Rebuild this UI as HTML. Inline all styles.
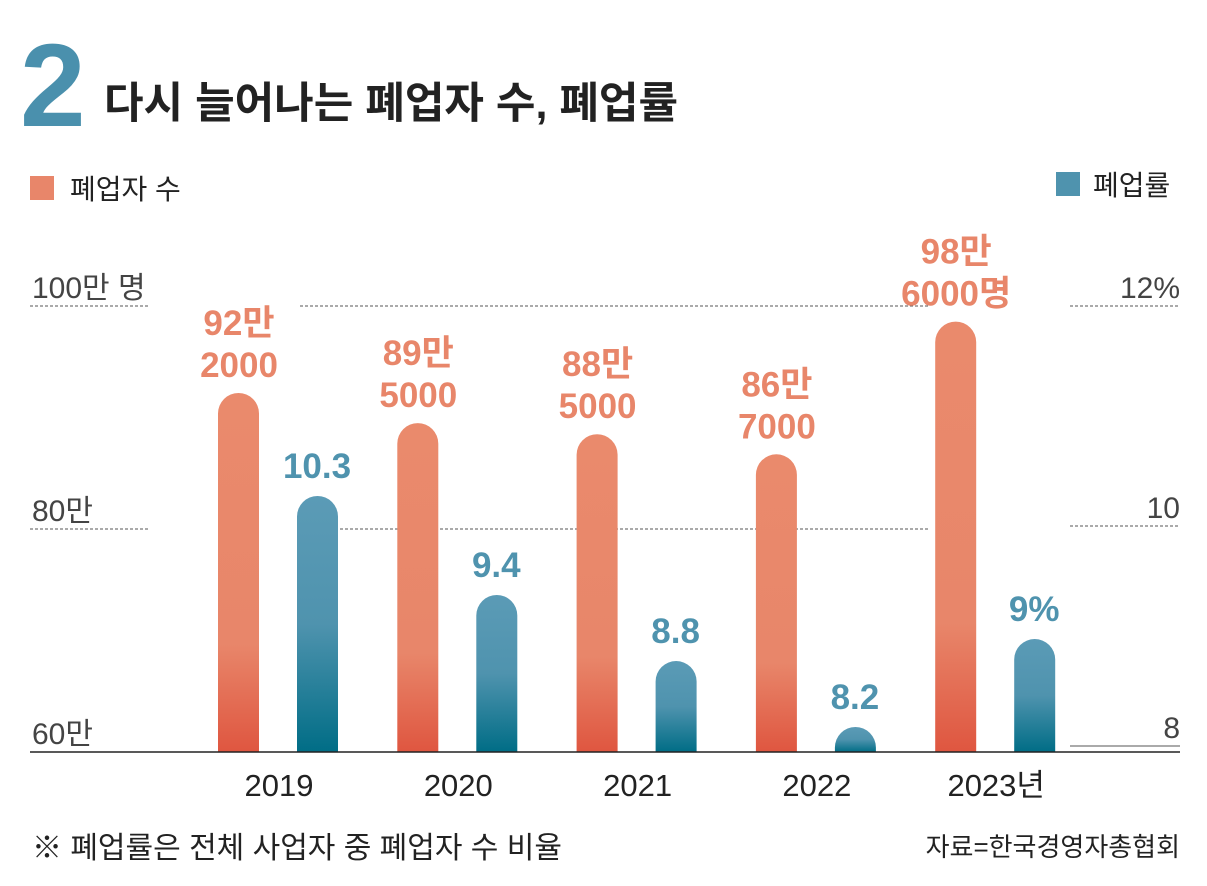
<!DOCTYPE html>
<html><head><meta charset="utf-8">
<style>
body{margin:0;background:#fff;}
svg text{font-family:"Liberation Sans","Noto Sans CJK KR",sans-serif;}
</style></head>
<body>
<svg id="chart" width="1207" height="881" viewBox="0 0 1207 881">
<defs>
<linearGradient id="og" x1="0" y1="0" x2="0" y2="1"><stop offset="0" stop-color="#ea8a6c"/><stop offset="0.7" stop-color="#e8866a"/><stop offset="1" stop-color="#df5640"/></linearGradient>
<linearGradient id="bg" x1="0" y1="0" x2="0" y2="1"><stop offset="0" stop-color="#5b9bb6"/><stop offset="0.5" stop-color="#4f93ae"/><stop offset="1" stop-color="#006d86"/></linearGradient>
</defs>
<text x="20" y="126" font-size="118" font-weight="bold" fill="#4a90ad">2</text>
<text x="104" y="118" font-size="43" font-weight="bold" fill="#222">다시 늘어나는 폐업자 수, 폐업률</text>
<rect x="30" y="176" width="24" height="24" fill="#e8866a"/>
<text x="70" y="199" font-size="28" fill="#222">폐업자 수</text>
<rect x="1056" y="172" width="24" height="24" fill="#4f93ae"/>
<text x="1093" y="195" font-size="28" fill="#222">폐업률</text>
<g id="grid"></g>
<g id="bars"></g>
<line x1="30" y1="752" x2="1180" y2="752" stroke="#222" stroke-width="1.5"/>
<text x="32" y="858" font-size="30" fill="#222">※ 폐업률은 전체 사업자 중 폐업자 수 비율</text>
<text x="1180" y="856" font-size="26" fill="#222" text-anchor="end">자료=한국경영자총협회</text>
</svg>
<script>
const years=["2019","2020","2021","2022","2023년"];
const closures=[92.2,89.5,88.5,86.7,98.6];
const closureLabels=[["92만","2000"],["89만","5000"],["88만","5000"],["86만","7000"],["98만","6000명"]];
const rates=[10.3,9.4,8.8,8.2,9.0];
const rateLabels=["10.3","9.4","8.8","8.2","9%"];
const leftTicks=[60,80,100];
const leftTickLabels=["60만","80만","100만 명"];
const rightTicks=[8,10,12];
const rightTickLabels=["8","10","12%"];
const NS="http://www.w3.org/2000/svg";
const yL=v=>752-(v-60)/20*223;
const yR=v=>749-(v-8)/2*220;
const xC=i=>239+i*179.3;
function mk(tag,attrs,parent){const e=document.createElementNS(NS,tag);for(const k in attrs)e.setAttribute(k,attrs[k]);parent.appendChild(e);return e;}
const grid=document.getElementById('grid'),bars=document.getElementById('bars');
leftTicks.forEach((t,i)=>{
 const y=yL(t);
 if(i>0){const l=mk('line',{x1:30,y1:y,x2:150,y2:y,stroke:'#555','stroke-dasharray':'3,2'},grid);
 
 
 const l2=mk('line',{x1:300,y1:y,x2:930,y2:y,stroke:'#555','stroke-dasharray':'3,2'},grid);
 
 }
 const tx=mk('text',{x:32,y:y-8,'font-size':30,fill:'#444'},grid);tx.textContent=leftTickLabels[i];
 
 
});
rightTicks.forEach((t,i)=>{
 const y=yR(t)-3;
 const l=mk('line',{x1:1070,y1:y,x2:1180,y2:y,stroke:'#555','stroke-dasharray':i==0?'':'3,2'},grid);
 
 
 const tx=mk('text',{x:1180,y:y-8,'font-size':30,fill:'#444','text-anchor':'end'},grid);tx.textContent=rightTickLabels[i];
 
 
});
function bar(x,top){const w=41,r=20.5;
 return `M${x},752 L${x},${top+r} A${r},${r} 0 0 1 ${x+w},${top+r} L${x+w},752 Z`;}
years.forEach((yr,i)=>{
 const c=xC(i);
 const ot=yL(closures[i]);
 const p=mk('path',{d:bar(c-21,ot),fill:'url(#og)'},bars);
 
 
 closureLabels[i].forEach((s,j)=>{const t=mk('text',{x:c,y:ot-58+j*42,'font-size':35,'font-weight':'bold',fill:'#e8866a','text-anchor':'middle'},bars);t.textContent=s;
 
 });
 const bt=yR(rates[i]);
 const bx=c+58;
 const q=mk('path',{d:bar(bx,bt),fill:'url(#bg)'},bars);
 
 
 const t=mk('text',{x:bx+20,y:bt-18,'font-size':35,'font-weight':'bold',fill:'#4f93ae','text-anchor':'middle'},bars);t.textContent=rateLabels[i];
 
 
 const xl=mk('text',{x:c+40,y:796,'font-size':31,fill:'#222','text-anchor':'middle'},bars);xl.textContent=yr;
 
 
});
</script>
</body></html>
